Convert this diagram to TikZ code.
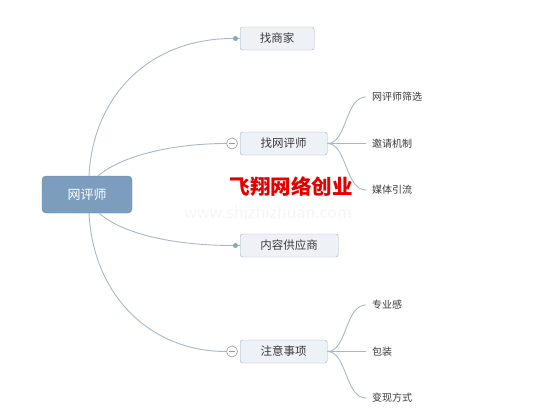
\documentclass[tikz,border=0pt]{standalone}
\usepackage{fontspec}
\setmainfont{Noto Sans CJK SC}
\newfontfamily\cjk{Noto Sans CJK SC}
\definecolor{rootfill}{HTML}{7C9DBD}
\definecolor{boxfill}{HTML}{EEF2F7}
\definecolor{boxline}{HTML}{A3B3C4}
\definecolor{conn}{HTML}{A9B8C8}
\definecolor{txt}{HTML}{3A3A3A}
\definecolor{wm}{HTML}{F7F5F8}
\tikzset{
  rootbox/.style={draw=rootfill!85!black, fill=rootfill, rounded corners=4pt, minimum width=90pt, minimum height=37pt, text=white, font=\cjk\fontsize{13}{13}\selectfont},
  topicbox/.style={draw=boxline, fill=boxfill, rounded corners=2.5pt, minimum height=23pt, inner xsep=0pt, text=txt, font=\cjk\fontsize{11.5}{12}\selectfont, anchor=west},
  subtext/.style={text=txt, font=\cjk\fontsize{10}{10}\selectfont, anchor=west, inner sep=0pt},
  link/.style={draw=conn, line width=0.9pt},
  dotmark/.style={circle, fill=rootfill!90, inner sep=0pt, minimum size=5pt},
  foldmark/.style={circle, draw=gray!70, fill=white, inner sep=0pt, minimum size=11pt, line width=0.7pt}
}
\begin{document}
\begin{tikzpicture}[x=1pt,y=-1pt]
\useasboundingbox (0,0) rectangle (552,418);
\fill[white] (0,0) rectangle (552,418);
% watermark
\node[text=wm, font=\fontsize{16}{16}\selectfont] (wmark) at (268,212) {www.shizhizhuan.com};
% root
\node[rootbox] (root) at (87,194.5) {网评师};
% topics
\node[topicbox, minimum width=74pt] (t1) at (240,38.5) {找商家};
\node[topicbox, minimum width=87pt] (t2) at (240,143.5) {找网评师};
\node[topicbox, minimum width=98pt] (t3) at (240,245.5) {内容供应商};
\node[topicbox, minimum width=87pt] (t4) at (240,351.5) {注意事项};
% markers
\node[dotmark] (d1) at (235.5,38.5) {};
\node[dotmark] (d3) at (235.5,245.5) {};
% connectors from root
\coordinate (r1) at (89,176);
\coordinate (r2) at (98,176);
\coordinate (r3) at (99,213);
\coordinate (r4) at (89,213);
\coordinate (c2) at (226,143.5);
\coordinate (c4) at (226,351.5);
\draw[link] (r1) .. controls (93,95) and (150,38.5) .. (d1.west);
\draw[link] (r2) .. controls (122,155) and (175,143.5) .. (c2);
\draw[link] (r3) .. controls (122,234) and (175,245.5) .. (d3.west);
\draw[link] (r4) .. controls (93,295) and (150,351.5) .. (c4);
\draw[link] (d1.east) -- (t1.west);
\draw[link] (d3.east) -- (t3.west);
\node[foldmark] (f2) at (232,143.5) {};
\node[foldmark] (f4) at (232,351.5) {};
\draw[gray!80, line width=0.7pt] ([xshift=-3pt]f2.center) -- ([xshift=3pt]f2.center);
\draw[gray!80, line width=0.7pt] ([xshift=-3pt]f4.center) -- ([xshift=3pt]f4.center);
% sub items
\node[subtext] (s1) at (372,97) {网评师筛选};
\node[subtext] (s2) at (372,143.5) {邀请机制};
\node[subtext] (s3) at (372,190) {媒体引流};
\node[subtext] (s4) at (372,305) {专业感};
\node[subtext] (s5) at (372,351.5) {包装};
\node[subtext] (s6) at (372,398) {变现方式};
\foreach \s in {s1,s3} {
  \draw[link] (t2.east) .. controls (347,143.5) and (345,0|-\s.west) .. ([xshift=-6pt]\s.west);
}
\draw[link] (t2.east) -- ([xshift=-6pt]s2.west);
\foreach \s in {s4,s6} {
  \draw[link] (t4.east) .. controls (347,351.5) and (345,0|-\s.west) .. ([xshift=-6pt]\s.west);
}
\draw[link] (t4.east) -- ([xshift=-6pt]s5.west);
% red overlay text
\node[text=red!90!black, font=\cjk\bfseries\fontsize{20.5}{20.5}\selectfont] (brand) at (291,187) {飞翔网络创业};
\end{tikzpicture}
\end{document}
